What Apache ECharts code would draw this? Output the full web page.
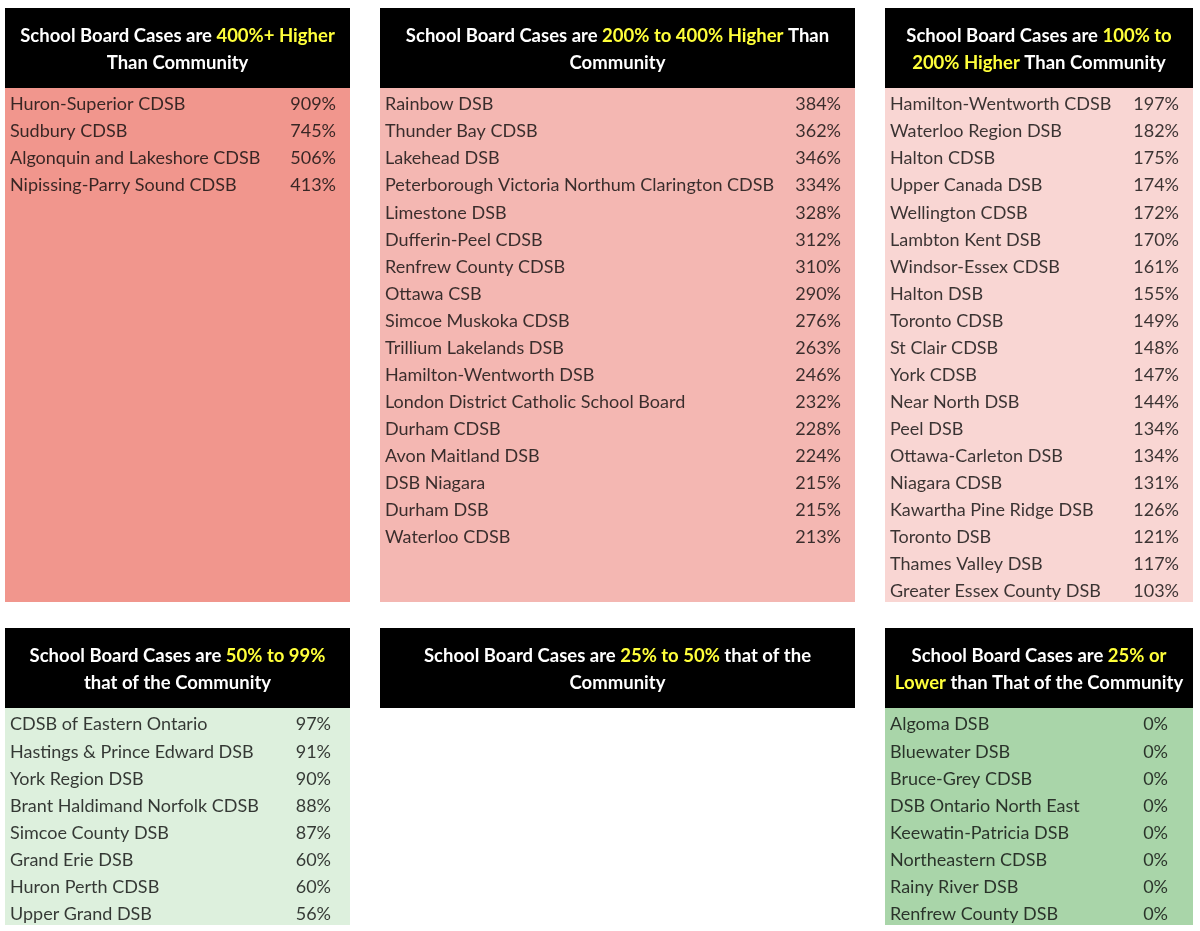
<!DOCTYPE html>
<html>
<head>
<meta charset="utf-8">
<script src="https://cdn.jsdelivr.net/npm/echarts@6/dist/echarts.min.js"></script>
<style>
    html, body { margin: 0; padding: 0; background: #ffffff; }
    #school-board-chart { width: 1200px; height: 931px; }
</style>
</head>
<body>
<div id="school-board-chart"></div>
<script>
// Panel 1: 400%+ higher
let boards_400_plus = ['Huron-Superior CDSB', 'Sudbury CDSB', 'Algonquin and Lakeshore CDSB', 'Nipissing-Parry Sound CDSB'];
let values_400_plus = [909, 745, 506, 413];

// Panel 2: 200% to 400% higher
let boards_200_400 = ['Rainbow DSB', 'Thunder Bay CDSB', 'Lakehead DSB', 'Peterborough Victoria Northum Clarington CDSB',
    'Limestone DSB', 'Dufferin-Peel CDSB', 'Renfrew County CDSB', 'Ottawa CSB', 'Simcoe Muskoka CDSB',
    'Trillium Lakelands DSB', 'Hamilton-Wentworth DSB', 'London District Catholic School Board', 'Durham CDSB',
    'Avon Maitland DSB', 'DSB Niagara', 'Durham DSB', 'Waterloo CDSB'];
let values_200_400 = [384, 362, 346, 334, 328, 312, 310, 290, 276, 263, 246, 232, 228, 224, 215, 215, 213];

// Panel 3: 100% to 200% higher
let boards_100_200 = ['Hamilton-Wentworth CDSB', 'Waterloo Region DSB', 'Halton CDSB', 'Upper Canada DSB',
    'Wellington CDSB', 'Lambton Kent DSB', 'Windsor-Essex CDSB', 'Halton DSB', 'Toronto CDSB', 'St Clair CDSB',
    'York CDSB', 'Near North DSB', 'Peel DSB', 'Ottawa-Carleton DSB', 'Niagara CDSB', 'Kawartha Pine Ridge DSB',
    'Toronto DSB', 'Thames Valley DSB', 'Greater Essex County DSB'];
let values_100_200 = [197, 182, 175, 174, 172, 170, 161, 155, 149, 148, 147, 144, 134, 134, 131, 126, 121, 117, 103];

// Panel 4: 50% to 99% of community
let boards_50_99 = ['CDSB of Eastern Ontario', 'Hastings & Prince Edward DSB', 'York Region DSB',
    'Brant Haldimand Norfolk CDSB', 'Simcoe County DSB', 'Grand Erie DSB', 'Huron Perth CDSB', 'Upper Grand DSB'];
let values_50_99 = [97, 91, 90, 88, 87, 60, 60, 56];

// Panel 5: 25% to 50% (empty)
let boards_25_50 = [];
let values_25_50 = [];

// Panel 6: 25% or lower
let boards_25_lower = ['Algoma DSB', 'Bluewater DSB', 'Bruce-Grey CDSB', 'DSB Ontario North East',
    'Keewatin-Patricia DSB', 'Northeastern CDSB', 'Rainy River DSB', 'Renfrew County DSB'];
let values_25_lower = [0, 0, 0, 0, 0, 0, 0, 0];

// Header texts: [before, highlighted, after]
let header_texts = [
    ['School Board Cases are ', '400%+ Higher', '\nThan Community'],
    ['School Board Cases are ', '200% to 400% Higher', ' Than\nCommunity'],
    ['School Board Cases are ', '100% to\n200% Higher', ' Than Community'],
    ['School Board Cases are ', '50% to 99%', '\nthat of the Community'],
    ['School Board Cases are ', '25% to 50%', ' that of the\nCommunity'],
    ['School Board Cases are ', '25% or\nLower', ' than That of the Community']
];

const FONT = 'Lato, "Open Sans", sans-serif';
const TOP_ROW_Y = 8;
const BOTTOM_ROW_Y = 628;
const HEADER_HEIGHT = 80;
const ROW_HEIGHT = 27;

/* Layout for each panel, positions only. */
let panels = [
    {left: 5, width: 345, y: TOP_ROW_Y, rows: 19, color: '#F1968D', valueGap: 14, boards: boards_400_plus, values: values_400_plus},
    {left: 380, width: 475, y: TOP_ROW_Y, rows: 19, color: '#F4B7B2', valueGap: 14, boards: boards_200_400, values: values_200_400},
    {left: 885, width: 308, y: TOP_ROW_Y, rows: 19, color: '#F9D6D3', valueGap: 14, boards: boards_100_200, values: values_100_200},
    {left: 5, width: 345, y: BOTTOM_ROW_Y, rows: 8, color: '#DDF0DD', valueGap: 19, boards: boards_50_99, values: values_50_99},
    {left: 380, width: 475, y: BOTTOM_ROW_Y, rows: 0, color: '#ffffff', valueGap: 14, boards: boards_25_50, values: values_25_50},
    {left: 885, width: 308, y: BOTTOM_ROW_Y, rows: 8, color: '#A9D5A9', valueGap: 25, boards: boards_25_lower, values: values_25_lower}
];

let chart = echarts.init(document.getElementById('school-board-chart'));

let grids = [];
let x_axes = [];
let y_axes = [];
let series = [];
let graphics = [];

panels.forEach(function (p, idx) {
    /* Black header box with rich title text. */
    let h = header_texts[idx];
    let yellow_parts = h[1].split('\n').map(function (s) { return '{y|' + s + '}'; }).join('\n');
    let after_parts = h[2].split('\n').map(function (s) { return s ? '{w|' + s + '}' : ''; }).join('\n');
    graphics.push({
        type: 'rect',
        shape: {x: p.left, y: p.y, width: p.width, height: HEADER_HEIGHT},
        style: {fill: '#000000'},
        silent: true
    });
    graphics.push({
        type: 'text',
        x: p.left + p.width / 2,
        y: p.y + HEADER_HEIGHT / 2 + 2,
        style: {
            text: '{w|' + h[0] + '}' + yellow_parts + after_parts,
            align: 'center',
            verticalAlign: 'middle',
            rich: {
                w: {fill: '#ffffff', fontFamily: FONT, fontWeight: 'bold', fontSize: 18.5, lineHeight: 27},
                y: {fill: '#FFFF3A', fontFamily: FONT, fontWeight: 'bold', fontSize: 18.5, lineHeight: 27}
            }
        },
        silent: true
    });

    if (p.rows === 0) {
        return;
    }

    let g = grids.length;
    grids.push({
        left: p.left,
        top: p.y + HEADER_HEIGHT,
        width: p.width,
        height: p.rows * ROW_HEIGHT + 1,
        show: true,
        backgroundColor: p.color,
        borderWidth: 0
    });
    x_axes.push({gridIndex: g, type: 'value', min: 0, max: 1, show: false});
    y_axes.push({gridIndex: g, type: 'value', inverse: true, min: -0.5, max: p.rows - 0.5, show: false});

    series.push({
        type: 'scatter',
        xAxisIndex: g,
        yAxisIndex: g,
        symbolSize: 0,
        silent: true,
        data: p.boards.map(function (name, i) { return {name: name, value: [0, i]}; }),
        label: {
            show: true,
            position: 'right',
            distance: 5,
            offset: [0, 3],
            formatter: '{b}',
            color: '#0a0a0a',
            fontFamily: FONT,
            fontSize: 18,
            width: p.width - 75,
            overflow: 'truncate',
            ellipsis: ''
        }
    });
    series.push({
        type: 'scatter',
        xAxisIndex: g,
        yAxisIndex: g,
        symbolSize: 0,
        silent: true,
        data: p.values.map(function (v, i) { return [1, i, v]; }),
        label: {
            show: true,
            position: 'left',
            distance: p.valueGap,
            offset: [0, 3],
            formatter: function (params) { return params.value[2] + '%'; },
            color: '#0a0a0a',
            fontFamily: FONT,
            fontSize: 18
        }
    });
});

chart.setOption({
    backgroundColor: '#ffffff',
    animation: false,
    grid: grids,
    xAxis: x_axes,
    yAxis: y_axes,
    series: series,
    graphic: graphics
});

window.addEventListener('resize', function () {
    chart.resize();
});
</script>
</body>
</html>
